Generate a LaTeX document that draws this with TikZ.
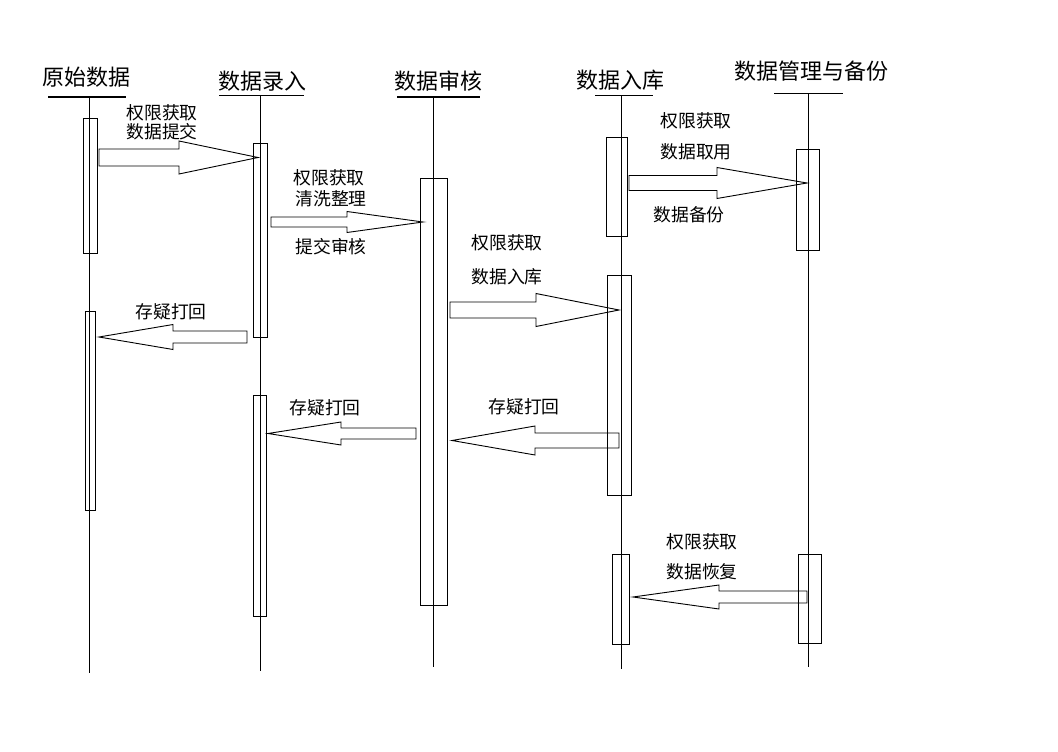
\documentclass[tikz,border=0pt]{standalone}
\usepackage{fontspec}
\newfontfamily\cjk{Noto Sans CJK SC}
\usetikzlibrary{calc,fit}
\tikzset{
  hd/.style={font=\cjk\fontsize{22}{24}\selectfont, inner sep=0pt},
  lbl/.style={font=\cjk\fontsize{17.8}{20}\selectfont, inner sep=0pt},
  life/.style={line width=1pt},
  act/.style={draw, line width=1pt, inner sep=0pt},
  fat/.style={line width=0.9pt, line join=miter}
}
% block arrow: from, tip, head length, half shaft, half head
\newcommand{\fatar}[5]{%
  \draw[fat] let \p1=(#1), \p2=(#2), \p3=($(#2)!#3!(#1)$) in
    (\x1,\y2+#4) -- (\x3,\y2+#4) -- (\x3,\y2+#5) -- (\p2)
    -- (\x3,\y2-#5) -- (\x3,\y2-#4) -- (\x1,\y2-#4) -- cycle;}
% activation box from two corners
\newcommand{\actbox}[5]{%
  \coordinate (#1-a) at (#2,#3); \coordinate (#1-b) at (#4,#5);
  \node[act, fit=(#1-a)(#1-b)] (#1) {};}
\begin{document}
\begin{tikzpicture}[x=1pt,y=-1pt]
\useasboundingbox (0,0) rectangle (1058,752);
% heads
\node[hd] (src) at (86,77) {原始数据};
\node[hd] (ent) at (262,81) {数据录入};
\node[hd] (aud) at (438,81) {数据审核};
\node[hd] (sto) at (620,80) {数据入库};
\node[hd] (bak) at (811,71) {数据管理与备份};
\draw[life] (48,97) -- (126,97);
\draw[life] (219,96) -- (304,96);
\draw[life] (397,97) -- (480,97);
\draw[life] (595,96) -- (653,96);
\draw[life] (774,94) -- (843,94);
% lifelines
\draw[life] (89,97) -- (89,673);
\draw[life] (260,96) -- (260,671);
\draw[life] (433,97) -- (433,667);
\draw[life] (621,96) -- (621,669);
\draw[life] (808,94) -- (808,667);
% activations
\actbox{src1}{83}{118}{97}{253}
\actbox{src2}{85}{311}{95}{510}
\actbox{ent1}{253}{143}{267}{337}
\actbox{ent2}{253}{395}{266}{616}
\actbox{aud1}{420}{178}{447}{605}
\actbox{sto1}{606}{137}{627}{236}
\actbox{sto2}{607}{275}{631}{495}
\actbox{sto3}{612}{554}{629}{644}
\actbox{bak1}{796}{149}{819}{250}
\actbox{bak2}{798}{554}{821}{643}
% messages
\coordinate (m1s) at (99,157.5);  \coordinate (m1e) at (258,157.5);
\coordinate (m2s) at (271,222);   \coordinate (m2e) at (423,222);
\coordinate (m3s) at (450,310);   \coordinate (m3e) at (619,310);
\coordinate (m4s) at (629,183);   \coordinate (m4e) at (807,183);
\coordinate (m5s) at (247,337);   \coordinate (m5e) at (99,337);
\coordinate (m6s) at (416,433.5); \coordinate (m6e) at (268,433.5);
\coordinate (m7s) at (619,440.5); \coordinate (m7e) at (452,440.5);
\coordinate (m8s) at (807,597);   \coordinate (m8e) at (633,597);
\fatar{m1s}{m1e}{79pt}{8.5pt}{16.5pt}
\fatar{m2s}{m2e}{76pt}{5pt}{10.5pt}
\fatar{m3s}{m3e}{83pt}{8pt}{16.5pt}
\fatar{m4s}{m4e}{90pt}{7.5pt}{15.5pt}
\fatar{m5s}{m5e}{74pt}{6pt}{12.5pt}
\fatar{m6s}{m6e}{73pt}{5.5pt}{11.5pt}
\fatar{m7s}{m7e}{83pt}{7.5pt}{14.5pt}
\fatar{m8s}{m8e}{86pt}{6pt}{12pt}
% labels
\node[lbl] (l1a) at (162,113) {权限获取};
\node[lbl] (l1b) at (162,132) {数据提交};
\node[lbl] (l2a) at (329,178) {权限获取};
\node[lbl] (l2b) at (331,199) {清洗整理};
\node[lbl] (l2c) at (331,247) {提交审核};
\node[lbl] (l3a) at (507,243) {权限获取};
\node[lbl] (l3b) at (507,277) {数据入库};
\node[lbl] (l4a) at (696,121) {权限获取};
\node[lbl] (l4b) at (696,152) {数据取用};
\node[lbl] (l4c) at (689,215) {数据备份};
\node[lbl] (l5) at (171,312) {存疑打回};
\node[lbl] (l6) at (325,408) {存疑打回};
\node[lbl] (l7) at (524,407) {存疑打回};
\node[lbl] (l8a) at (702,542) {权限获取};
\node[lbl] (l8b) at (702,572) {数据恢复};
\end{tikzpicture}
\end{document}
